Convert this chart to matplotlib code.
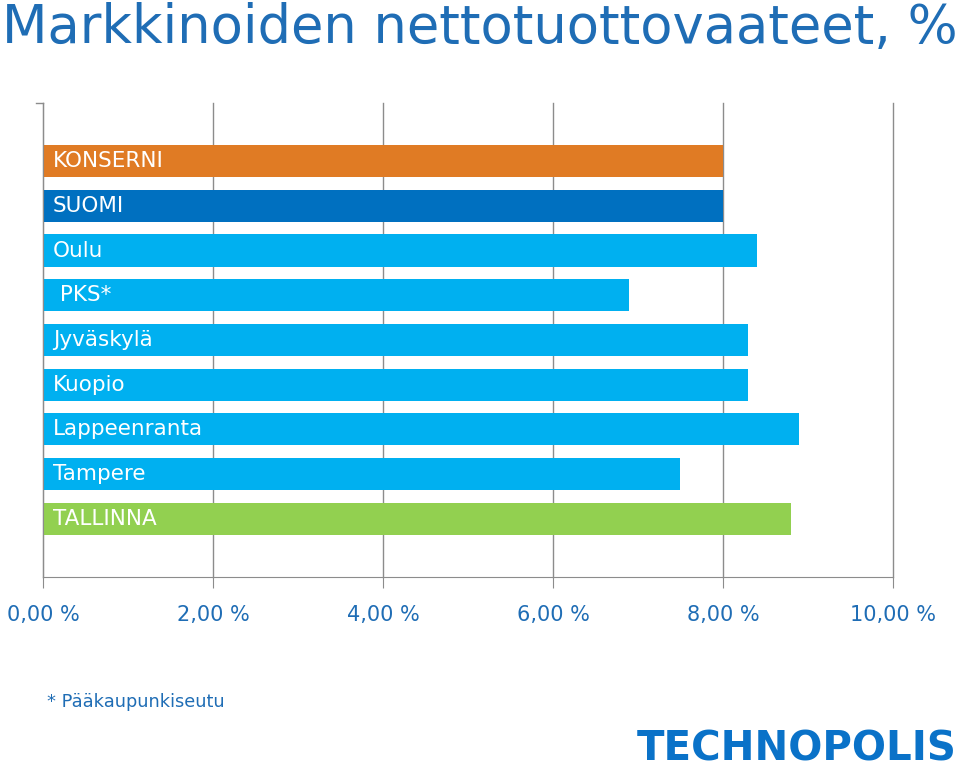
import matplotlib.pyplot as plt

# data
labels = ["KONSERNI", "SUOMI", "Oulu", " PKS*", "Jyväskylä", "Kuopio",
          "Lappeenranta", "Tampere", "TALLINNA"]
values = [8.0, 8.0, 8.4, 6.9, 8.3, 8.3, 8.9, 7.5, 8.8]
colors = ["#E07B24", "#0070C0", "#00B0F0", "#00B0F0", "#00B0F0", "#00B0F0",
          "#00B0F0", "#00B0F0", "#92D050"]
xticks = [0, 2, 4, 6, 8, 10]
xtick_labels = ["0,00 %", "2,00 %", "4,00 %", "6,00 %", "8,00 %", "10,00 %"]

blue_text = "#1F6DB5"

fig = plt.figure(figsize=(9.6, 7.73), dpi=100)
ax = fig.add_axes([0.0448, 0.2536, 0.8854, 0.6132])

pos = list(range(len(labels)))
ax.barh(pos, values, height=0.72, color=colors, zorder=2)
for p, lab in zip(pos, labels):
    ax.text(0.115, p, lab, color="white", fontsize=15.5, va="center", ha="left", zorder=3)

ax.set_xlim(0, 10)
ax.set_ylim(9.3, -1.3)
ax.set_xticks(xticks)
ax.set_xticklabels(xtick_labels, color=blue_text, fontsize=15)
ax.set_yticks([])
ax.grid(axis="x", color="#8C8C8C", linewidth=1, zorder=1)
for gl in ax.get_xgridlines():
    gl.set_clip_on(False)
ax.tick_params(axis="x", length=8, color="#8C8C8C", pad=12)
for s in ["top", "right"]:
    ax.spines[s].set_visible(False)
ax.spines["bottom"].set_color("#8C8C8C")
ax.spines["left"].set_color("#8C8C8C")
# small tick at top of the left axis
ax.plot([-0.08, 0], [-1.3, -1.3], color="#8C8C8C", lw=1, clip_on=False)

fig.text(0.002, 0.997, "Markkinoiden nettotuottovaateet, %", color=blue_text,
         fontsize=38, va="top", ha="left")
fig.text(0.049, 0.092, "* Pääkaupunkiseutu", color=blue_text, fontsize=12.8,
         va="center", ha="left")
fig.text(0.997, 0.005, "TECHNOPOLIS", color="#0A72C8", fontsize=29,
         fontweight="heavy", va="bottom", ha="right", family="DejaVu Sans")

fig.savefig("out.png", dpi=100)
